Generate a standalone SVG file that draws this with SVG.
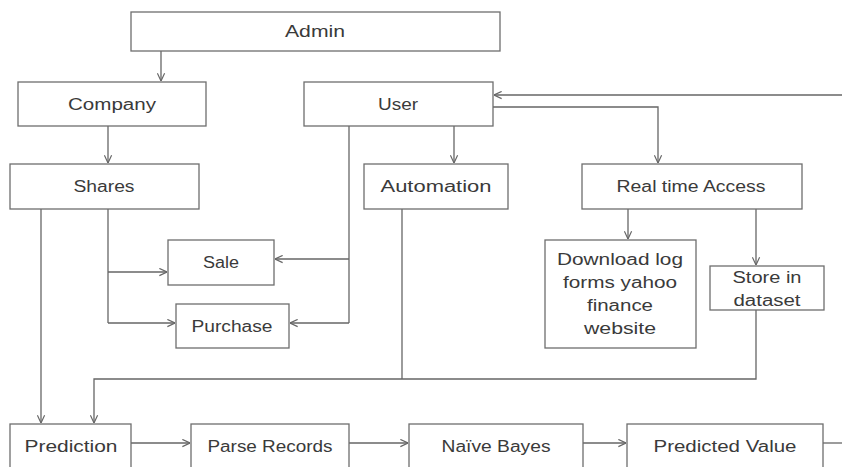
<svg xmlns="http://www.w3.org/2000/svg" width="842" height="467" viewBox="0 0 842 467">
<defs>
<style>
.box{fill:#fff;stroke:#6e6e6e;stroke-width:1.3}
.t{font-family:"Liberation Sans",Arial,sans-serif;font-size:16px;fill:#3a3a3a;text-anchor:middle}
.c{fill:none;stroke:#666;stroke-width:1.3}
</style>
<marker id="ah" viewBox="0 0 10 10" refX="9.5" refY="5" markerWidth="9" markerHeight="9" markerUnits="userSpaceOnUse" orient="auto">
<polyline points="1,1 9.5,5 1,9" fill="none" stroke="#666" stroke-width="1.3"/>
</marker>
</defs>
<rect width="842" height="467" fill="#fff"/>
<g id="connectors">
<line class="c" x1="161" y1="51" x2="161" y2="81" marker-end="url(#ah)"/>
<line class="c" x1="108" y1="126" x2="108" y2="163" marker-end="url(#ah)"/>
<line class="c" x1="454" y1="126" x2="454" y2="163" marker-end="url(#ah)"/>
<polyline class="c" points="493,107 658,107 658,163" marker-end="url(#ah)"/>
<line class="c" x1="842" y1="95" x2="494" y2="95" marker-end="url(#ah)"/>
<line class="c" x1="628" y1="209" x2="628" y2="239" marker-end="url(#ah)"/>
<line class="c" x1="756" y1="209" x2="756" y2="265" marker-end="url(#ah)"/>
<line class="c" x1="41" y1="209" x2="41" y2="423" marker-end="url(#ah)"/>
<line class="c" x1="108" y1="209" x2="108" y2="323"/>
<line class="c" x1="108" y1="272" x2="167" y2="272" marker-end="url(#ah)"/>
<line class="c" x1="108" y1="323" x2="175" y2="323" marker-end="url(#ah)"/>
<line class="c" x1="349" y1="126" x2="349" y2="323"/>
<line class="c" x1="349" y1="259" x2="275" y2="259" marker-end="url(#ah)"/>
<line class="c" x1="349" y1="323" x2="290" y2="323" marker-end="url(#ah)"/>
<line class="c" x1="402" y1="209" x2="402" y2="379"/>
<polyline class="c" points="756,310 756,379 94,379 94,423" marker-end="url(#ah)"/>
<line class="c" x1="131" y1="443" x2="190" y2="443" marker-end="url(#ah)"/>
<line class="c" x1="349" y1="443" x2="408" y2="443" marker-end="url(#ah)"/>
<line class="c" x1="583" y1="443" x2="626" y2="443" marker-end="url(#ah)"/>
<line class="c" x1="823" y1="443" x2="842" y2="443"/>
</g>
<g id="admin"><rect class="box" x="131" y="12" width="369" height="39"/><text class="t" x="315" y="37" textLength="60" lengthAdjust="spacingAndGlyphs">Admin</text></g>
<g id="company"><rect class="box" x="18" y="82" width="188" height="44"/><text class="t" x="112" y="110" textLength="88" lengthAdjust="spacingAndGlyphs">Company</text></g>
<g id="user"><rect class="box" x="304" y="82" width="189" height="44"/><text class="t" x="398" y="110" textLength="40" lengthAdjust="spacingAndGlyphs">User</text></g>
<g id="shares"><rect class="box" x="10" y="164" width="189" height="45"/><text class="t" x="104" y="192" textLength="61" lengthAdjust="spacingAndGlyphs">Shares</text></g>
<g id="automation"><rect class="box" x="364" y="164" width="144" height="45"/><text class="t" x="436" y="192" textLength="111" lengthAdjust="spacingAndGlyphs">Automation</text></g>
<g id="realtime"><rect class="box" x="582" y="164" width="220" height="45"/><text class="t" x="691" y="192" textLength="149" lengthAdjust="spacingAndGlyphs">Real time Access</text></g>
<g id="sale"><rect class="box" x="168" y="240" width="106" height="45"/><text class="t" x="221" y="268" textLength="36" lengthAdjust="spacingAndGlyphs">Sale</text></g>
<g id="purchase"><rect class="box" x="176" y="304" width="113" height="44"/><text class="t" x="232" y="332" textLength="81" lengthAdjust="spacingAndGlyphs">Purchase</text></g>
<g id="download"><rect class="box" x="545" y="240" width="151" height="108"/>
<text class="t" x="620" y="265" textLength="126" lengthAdjust="spacingAndGlyphs">Download log</text>
<text class="t" x="620" y="288" textLength="114" lengthAdjust="spacingAndGlyphs">forms yahoo</text>
<text class="t" x="620" y="311" textLength="66" lengthAdjust="spacingAndGlyphs">finance</text>
<text class="t" x="620" y="334" textLength="72" lengthAdjust="spacingAndGlyphs">website</text></g>
<g id="store"><rect class="box" x="710" y="266" width="114" height="44"/>
<text class="t" x="767" y="283" textLength="69" lengthAdjust="spacingAndGlyphs">Store in</text>
<text class="t" x="767" y="306" textLength="67" lengthAdjust="spacingAndGlyphs">dataset</text></g>
<g id="prediction"><rect class="box" x="10" y="424" width="121" height="60"/><text class="t" x="71" y="452" textLength="93" lengthAdjust="spacingAndGlyphs">Prediction</text></g>
<g id="parse"><rect class="box" x="191" y="424" width="158" height="60"/><text class="t" x="270" y="452" textLength="125" lengthAdjust="spacingAndGlyphs">Parse Records</text></g>
<g id="naive"><rect class="box" x="409" y="424" width="174" height="60"/><text class="t" x="496" y="452" textLength="109" lengthAdjust="spacingAndGlyphs">Naïve Bayes</text></g>
<g id="predicted"><rect class="box" x="627" y="424" width="196" height="60"/><text class="t" x="725" y="452" textLength="143" lengthAdjust="spacingAndGlyphs">Predicted Value</text></g>
</svg>
